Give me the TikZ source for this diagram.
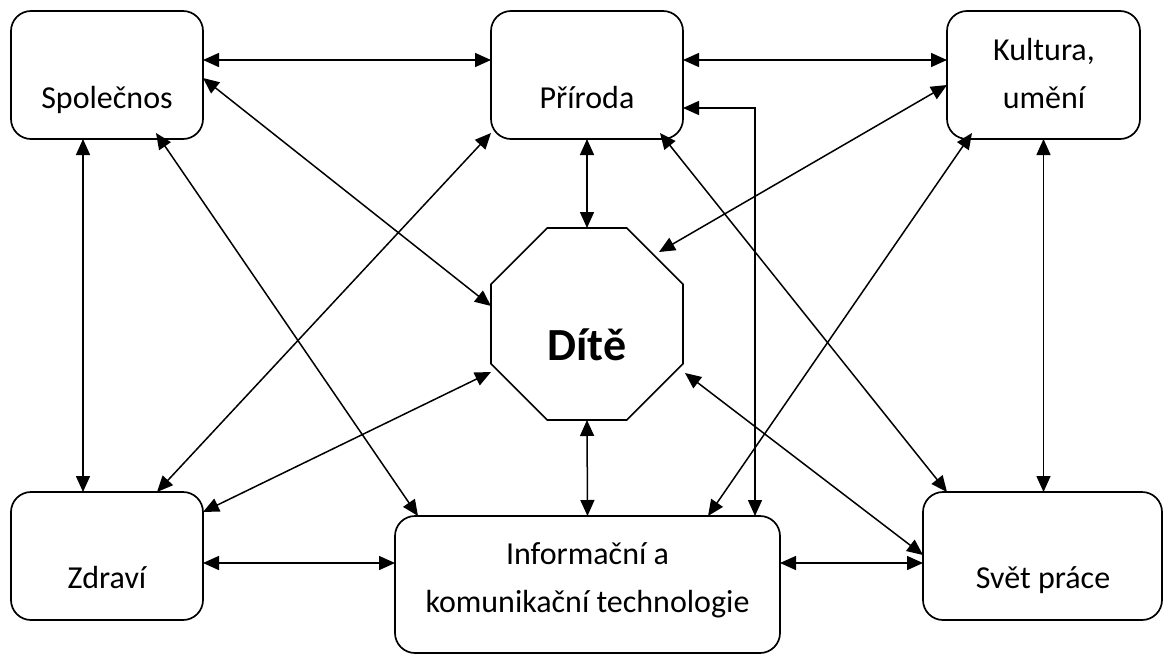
\documentclass[tikz,border=0pt]{standalone}
\usepackage{fontspec}
\setmainfont{Carlito}
\usetikzlibrary{arrows.meta,shapes.geometric}
\begin{document}
\begin{tikzpicture}[x=1pt,y=-1pt,
  box/.style={draw,line width=1.7pt,rounded corners=20pt,minimum width=192pt,minimum height=128pt,inner sep=0pt,outer sep=0pt},
  lbl/.style={anchor=base,inner sep=0pt,font={\fontsize{32}{48}\selectfont},align=center},
  con/.style={line width=1.5pt,{Triangle[length=16pt,width=14pt]}-{Triangle[length=16pt,width=14pt]}}
]
\useasboundingbox (0,0) rectangle (1163,656);

% boxes
\node[box] (spol) at (107,75) {};
\node[box] (prir) at (587,75) {};
\node[box,minimum width=193pt] (kult) at (1043.5,75) {};
\node[box] (zdr) at (107,556) {};
\node[box,minimum width=385pt,minimum height=137pt] (info) at (587.5,584.5) {};
\node[box,minimum width=239pt] (svet) at (1042.5,556) {};
\node[draw,line width=1.7pt,regular polygon,regular polygon sides=8,minimum size=207.8pt,inner sep=0pt,outer sep=0pt] (oct) at (587,324) {};

% labels (base = baseline of the last line)
\node[lbl] (tspol) at (107,108) {Společnos};
\node[lbl] (tprir) at (587,108) {Příroda};
\node[lbl] (tkult) at (1044,108) {Kultura,\\umění};
\node[lbl] (tzdr) at (107,588) {Zdraví};
\node[lbl] (tinfo) at (587.5,612) {Informační a\\komunikační technologie};
\node[lbl] (tsvet) at (1043,588) {Svět práce};
\node[anchor=base,inner sep=0pt,font={\fontsize{46}{50}\selectfont\bfseries}] (tdite) at (587,360) {Dítě};

% named end points
\coordinate (a8) at ([yshift=-7pt]zdr.east);
\coordinate (a9) at ([yshift=-7pt]svet.west);

% connectors
\draw[con] ([yshift=15pt]spol.east) -- ([yshift=15pt]prir.west);
\draw[con] ([yshift=15pt]prir.east) -- ([yshift=15pt]kult.west);
\draw[con] ([yshift=-33pt]prir.east) -| ([xshift=167.5pt]info.north);
\draw[con] ([xshift=-24pt]spol.south) -- ([xshift=-24pt]zdr.north);
\draw[con] (kult.south) -- (kult.south |- svet.north);
\draw[con] (prir.south) -- ([yshift=96pt]oct.center);
\draw[con] ([yshift=-96pt]oct.center) -- (info.north);
\draw[con] (a8) -- (a8 -| info.west);
\draw[con] (a9 -| info.east) -- (a9);
\draw[con] ([yshift=-3pt]spol.east) -- ([xshift=-96pt,yshift=18pt]oct.center);
\draw[con] ([xshift=49pt,yshift=6pt]spol.south) -- ([xshift=23pt]info.north west);
\draw[con] ([xshift=50pt]zdr.north) -- ([yshift=6pt]prir.south west);
\draw[con] ([yshift=44pt]zdr.east) -- ([xshift=-96pt,yshift=-48pt]oct.center);
\draw[con] ([xshift=-23pt,yshift=6pt]prir.south east) -- ([xshift=24pt]svet.north west);
\draw[con] ([yshift=-10pt]kult.west) -- ([xshift=72pt,yshift=72pt]oct.center);
\draw[con] ([xshift=25pt,yshift=6pt]kult.south west) -- ([xshift=120.5pt]info.north);
\draw[con] ([xshift=98pt,yshift=-49pt]oct.center) -- ([yshift=1pt]svet.west);
\end{tikzpicture}
\end{document}
